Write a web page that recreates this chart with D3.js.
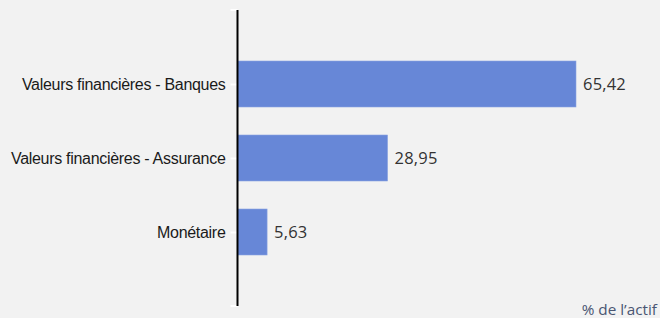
<!DOCTYPE html>
<html><head><meta charset="utf-8">
<script src="https://cdn.jsdelivr.net/npm/d3@7"></script>
<style>html,body{margin:0;padding:0;background:#f2f2f2;}svg{display:block;}</style>
</head><body>
<script>
const categories = ["Valeurs financières - Banques", "Valeurs financières - Assurance", "Monétaire"];
const values = [65.42, 28.95, 5.63];
const unitLabel = "% de l\u2019actif";

const W = 660, H = 318;
const svg = d3.select("body").append("svg").attr("width", W).attr("height", H);
svg.append("rect").attr("width", W).attr("height", H).attr("fill", "#f2f2f2");

const axisX = 237.5;
const x = d3.scaleLinear().domain([0, d3.max(values)]).range([238, 576]);
const y = d3.scalePoint().domain(categories).range([10, 306]).padding(1);
const barH = 46;
const fmt = v => d3.format(".2f")(v).replace(".", ",");

svg.selectAll("rect.bar").data(values).join("rect")
  .attr("class", "bar")
  .attr("x", x(0))
  .attr("y", (d, i) => y(categories[i]) - barH / 2)
  .attr("width", d => x(d) - x(0))
  .attr("height", barH)
  .attr("fill", "#6787d7")
  .attr("stroke", "#8aa3e0").attr("stroke-width", 0.6);

svg.selectAll("text.val").data(values).join("text")
  .attr("class", "val")
  .attr("x", d => x(d) + 7)
  .attr("y", (d, i) => y(categories[i]))
  .attr("dy", "0.34em")
  .attr("font-family", "'Open Sans', sans-serif")
  .attr("font-size", 16.5)
  .attr("letter-spacing", "0.2px")
  .attr("fill", "#333")
  .text(fmt);

// Axis
const axis = d3.axisLeft(y).tickSize(7).tickSizeOuter(7).tickPadding(5);
const g = svg.append("g").attr("transform", `translate(${axisX},0)`).call(axis);
g.select(".domain").remove();
g.selectAll(".tick line").attr("stroke", "#ffffff").attr("stroke-width", 2);
g.selectAll(".tick text")
  .attr("font-family", "'Liberation Sans', Arial, sans-serif")
  .attr("font-size", 16)
  .attr("letter-spacing", "-0.3px")
  .attr("fill", "#1a1a1a");
// outer end ticks
svg.selectAll("line.end").data(y.range()).join("line")
  .attr("class", "end")
  .attr("x1", axisX - 7).attr("x2", axisX)
  .attr("y1", d => d).attr("y2", d => d)
  .attr("stroke", "#ffffff").attr("stroke-width", 2);
svg.append("line")
  .attr("x1", axisX).attr("x2", axisX)
  .attr("y1", y.range()[0]).attr("y2", y.range()[1])
  .attr("stroke", "#000").attr("stroke-width", 2);

svg.append("text")
  .attr("x", 657).attr("y", 315)
  .attr("text-anchor", "end")
  .attr("font-family", "'Open Sans', sans-serif")
  .attr("font-size", 15.3)
  .attr("fill", "#4a5672")
  .text(unitLabel);
</script>
</body></html>
